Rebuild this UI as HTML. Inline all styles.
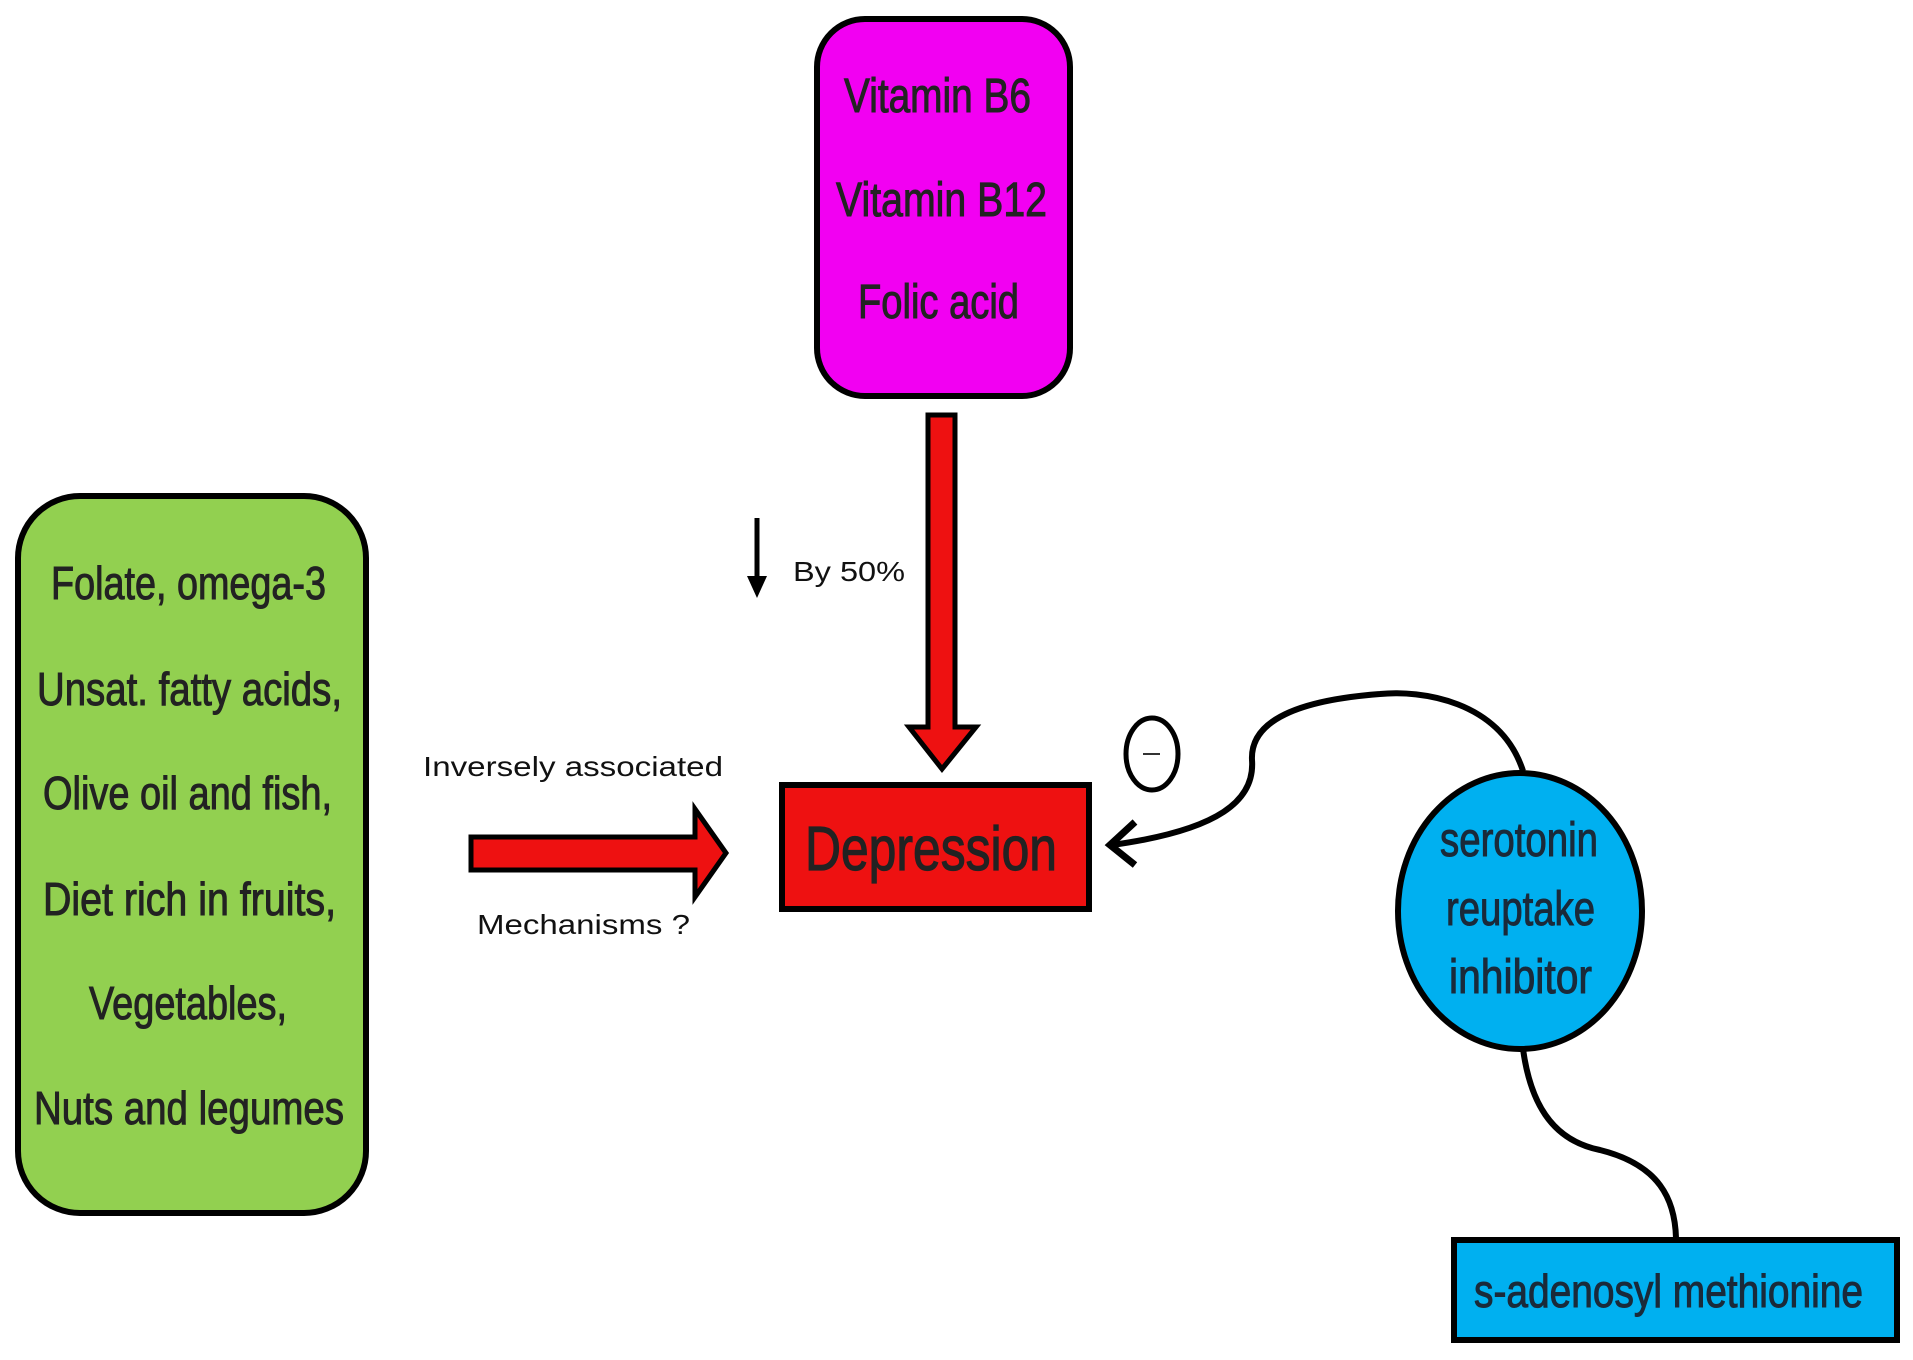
<!DOCTYPE html>
<html><head><meta charset="utf-8"><style>html,body{margin:0;padding:0;background:#fff}svg{display:block}</style></head>
<body>
<svg width="1913" height="1360" viewBox="0 0 1913 1360" xmlns="http://www.w3.org/2000/svg" font-family="Liberation Sans, Arial, sans-serif">
<!-- magenta box -->
<rect x="817" y="19" width="253" height="377" rx="48" fill="#f200f2" stroke="#000" stroke-width="6"/>
<g fill="#222" font-size="48" stroke="#222" stroke-width="1">
<text x="844" y="112" textLength="187" lengthAdjust="spacingAndGlyphs">Vitamin B6</text>
<text x="836" y="216" textLength="211" lengthAdjust="spacingAndGlyphs">Vitamin B12</text>
<text x="858" y="318" textLength="161" lengthAdjust="spacingAndGlyphs">Folic acid</text>
</g>
<!-- vertical red arrow -->
<polygon points="928,415 955,415 955,727 976,727 942,769 909,727 928,727" fill="#ee1111" stroke="#000" stroke-width="5"/>
<!-- green box -->
<rect x="18" y="496" width="348" height="717" rx="62" fill="#92d050" stroke="#000" stroke-width="6"/>
<g fill="#222" font-size="46" stroke="#222" stroke-width="1">
<text x="51" y="599" textLength="275" lengthAdjust="spacingAndGlyphs">Folate, omega-3</text>
<text x="37" y="705" textLength="305" lengthAdjust="spacingAndGlyphs">Unsat. fatty acids,</text>
<text x="43" y="809" textLength="289" lengthAdjust="spacingAndGlyphs">Olive oil and fish,</text>
<text x="43" y="915" textLength="293" lengthAdjust="spacingAndGlyphs">Diet rich in fruits,</text>
<text x="89" y="1019" textLength="198" lengthAdjust="spacingAndGlyphs">Vegetables,</text>
<text x="34" y="1124" textLength="310" lengthAdjust="spacingAndGlyphs">Nuts and legumes</text>
</g>
<!-- horizontal arrow -->
<polygon points="471,837 695,837 695,809 726,853 695,897 695,870 471,870" fill="#ee1111" stroke="#000" stroke-width="5"/>
<g fill="#111" font-size="28">
<text x="423" y="776" textLength="300" lengthAdjust="spacingAndGlyphs">Inversely associated</text>
<text x="477" y="934" textLength="213" lengthAdjust="spacingAndGlyphs">Mechanisms ?</text>
<text x="793" y="581" textLength="112" lengthAdjust="spacingAndGlyphs">By 50%</text>
</g>
<!-- small down arrow -->
<line x1="757" y1="518" x2="757" y2="585" stroke="#000" stroke-width="5"/>
<polygon points="747,576 757,598 767,576" fill="#000"/>
<!-- depression -->
<rect x="782" y="785" width="307" height="124" fill="#ee1111" stroke="#000" stroke-width="6"/>
<text x="805" y="870" font-size="62" fill="#222" stroke="#222" stroke-width="1.2" textLength="252" lengthAdjust="spacingAndGlyphs">Depression</text>
<!-- minus circle -->
<ellipse cx="1152" cy="754" rx="26" ry="36" fill="#fff" stroke="#000" stroke-width="5"/>
<line x1="1143" y1="754" x2="1160" y2="754" stroke="#333" stroke-width="2"/>
<!-- curve -->
<path d="M1523,771 C1500,700 1420,690 1380,694 C1300,700 1250,720 1252,760 C1255,800 1220,830 1112,845" fill="none" stroke="#000" stroke-width="6"/>
<polyline points="1135,822 1110,845 1135,865" fill="none" stroke="#000" stroke-width="7"/>
<!-- blue circle -->
<ellipse cx="1520" cy="911" rx="122" ry="138" fill="#00b0f0" stroke="#000" stroke-width="6"/>
<g fill="#1a2a3a" font-size="48" stroke="#1a2a3a" stroke-width="1">
<text x="1440" y="856" textLength="158" lengthAdjust="spacingAndGlyphs">serotonin</text>
<text x="1446" y="925" textLength="149" lengthAdjust="spacingAndGlyphs">reuptake</text>
<text x="1449" y="993" textLength="143" lengthAdjust="spacingAndGlyphs">inhibitor</text>
</g>
<!-- lower curve -->
<path d="M1523,1049 C1530,1100 1550,1140 1600,1150 C1660,1165 1675,1200 1676,1238" fill="none" stroke="#000" stroke-width="6"/>
<!-- s-adenosyl -->
<rect x="1454" y="1240" width="443" height="100" fill="#00b0f0" stroke="#000" stroke-width="6"/>
<text x="1474" y="1307" font-size="46" fill="#1a2a3a" stroke="#1a2a3a" stroke-width="1" textLength="389" lengthAdjust="spacingAndGlyphs">s-adenosyl methionine</text>
</svg>
</body></html>
